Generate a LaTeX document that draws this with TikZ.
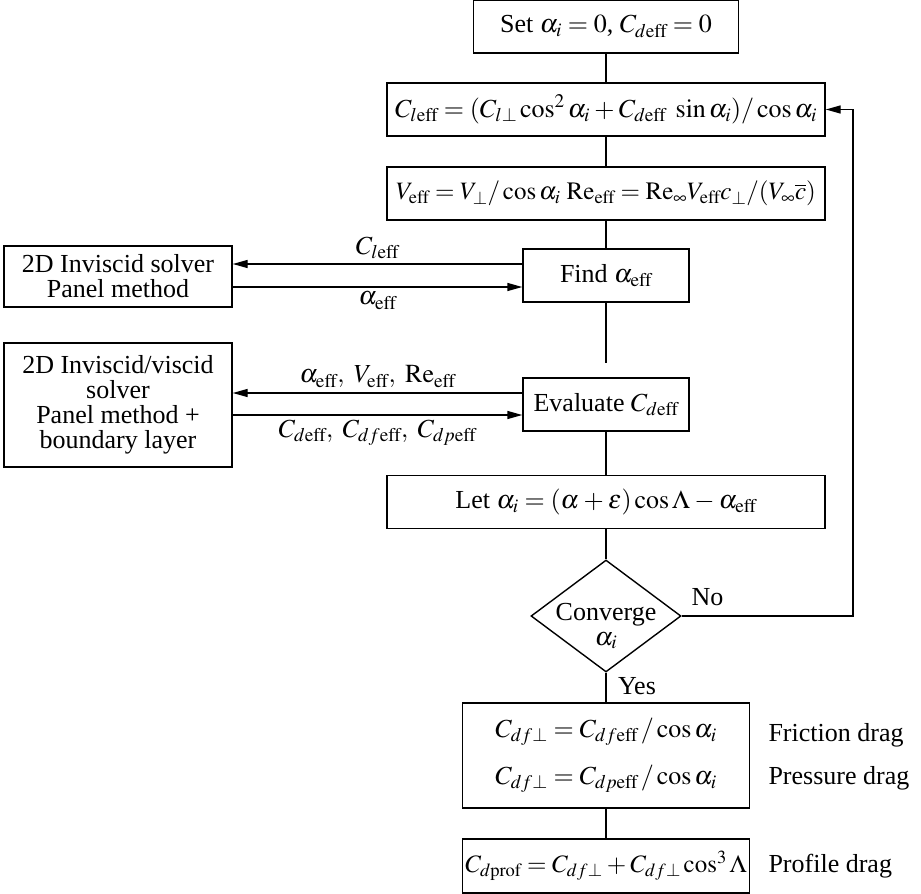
\documentclass[tikz,border=0pt]{standalone}
\usepackage{mathptmx}
\usepackage{fontspec}
\setmainfont{Liberation Serif}
\usetikzlibrary{shapes.geometric, arrows.meta}
\newcommand\tightmath{\thickmuskip=4mu\relax\medmuskip=3mu\relax}

\begin{document}
\begin{tikzpicture}[x=1pt,y=-1pt,
        font=\fontsize{26}{25}\selectfont\tightmath,
        box/.style={draw,line width=1.4pt,minimum height=53pt,inner sep=0pt,align=center},
        dec/.style={draw,diamond,line width=1.4pt,minimum width=150pt,minimum height=112pt,inner sep=0pt},
        ln/.style={line width=1.4pt},
        arr/.style={ln,-{Triangle[length=15pt,width=8pt]}}]
            \useasboundingbox (0,0) rectangle (921,894);
            \node[box,minimum width=265pt] (set) at (606,26.5) {Set $\alpha_i = 0$, $C_{d\mathrm{eff}} = 0$};
            \node[box,minimum width=438pt] (cleff) at (606,109.5) {$C_{l\mathrm{eff}} = (C_{l\perp}\cos^2\alpha_i + C_{d\mathrm{eff}}\ \sin\alpha_i)/\cos\alpha_i$};
            \node[box,minimum width=438pt] (veff) at (606,193.5) {\fontsize{25}{25}\selectfont$V_{\mathrm{eff}} = V_{\perp}/\cos\alpha_i\ \mathrm{Re}_{\mathrm{eff}} = \mathrm{Re}_{\infty}V_{\mathrm{eff}}c_{\perp}/(V_{\infty}\overline{c})$};
            \node[box,minimum width=166pt] (find) at (606,275.5) {Find $\alpha_{\mathrm{eff}}$};
            \coordinate (gap) at (606,363);
            \node[box,minimum width=166pt] (eval) at (606,404.5) {Evaluate $C_{d\mathrm{eff}}$};
            \node[box,minimum width=438pt] (let) at (606,502) {Let $\alpha_i = (\alpha + \varepsilon)\cos\Lambda - \alpha_{\mathrm{eff}}$};
            \node[dec] (conv) at (606,616) {};
            \node[align=center,inner sep=0pt] (convtxt) at (606,626) {Converge\\$\alpha_i$};
            \node[box,minimum width=287pt,minimum height=105pt] (drag) at (606,755.5) {$C_{df\perp} = C_{df\mathrm{eff}}\,/\cos\alpha_i$\\[18pt]$C_{df\perp} = C_{dp\mathrm{eff}}\,/\cos\alpha_i$};
            \node[box,minimum width=287pt,minimum height=54pt] (prof) at (606,866) {\fontsize{25}{25}\selectfont$C_{d\mathrm{prof}} = C_{df\perp} + C_{df\perp}\cos^3\Lambda$};
            \node[box,minimum width=228pt,minimum height=61pt] (inv) at (118,276.5) {2D Inviscid solver\\Panel method};
            \node[box,minimum width=228pt,minimum height=124pt] (visc) at (118,405) {2D Inviscid/viscid\\solver\\Panel method +\\boundary layer};
            \node[anchor=west] (fric) at (765,735) {Friction drag};
            \node[anchor=west] (pres) at (765,778) {Pressure drag};
            \node[anchor=west] (pdrag) at (765,866) {Profile drag};
            \coordinate (fb) at (853,616);

            \draw[ln] (set) -- (cleff);
            \draw[ln] (cleff) -- (veff);
            \draw[ln] (veff) -- (find);
            \draw[ln] (find) -- (gap);
            \draw[ln] (eval) -- (let);
            \draw[ln] (let) -- (conv);
            \draw[ln] (conv) -- node[pos=0.45,right=8pt] (yes) {Yes} (drag);
            \draw[ln] (drag) -- (prof);
            \draw[arr] (conv.east) -- node[pos=0.15,above=6pt] (no) {No} (fb) |- (cleff.east);
            \draw[arr] ([yshift=11.5pt]find.west) -- node[above=1pt] (clbl) {$C_{l\mathrm{eff}}$} ([yshift=11.5pt]find.west -| inv.east);
            \draw[arr] ([yshift=-11.5pt]find.west -| inv.east) -- node[below=1pt] (albl) {$\alpha_{\mathrm{eff}}$} ([yshift=-11.5pt]find.west);
            \draw[arr] ([yshift=11.5pt]eval.west) -- node[above=1pt] (inlbl) {$\alpha_{\mathrm{eff}},\ V_{\mathrm{eff}},\ \mathrm{Re}_{\mathrm{eff}}$} ([yshift=11.5pt]eval.west -| visc.east);
            \draw[arr] ([yshift=-10.5pt]eval.west -| visc.east) -- node[below=1pt] (outlbl) {$C_{d\mathrm{eff}},\ C_{df\mathrm{eff}},\ C_{dp\mathrm{eff}}$} ([yshift=-10.5pt]eval.west);
        \end{tikzpicture}
\end{document}
